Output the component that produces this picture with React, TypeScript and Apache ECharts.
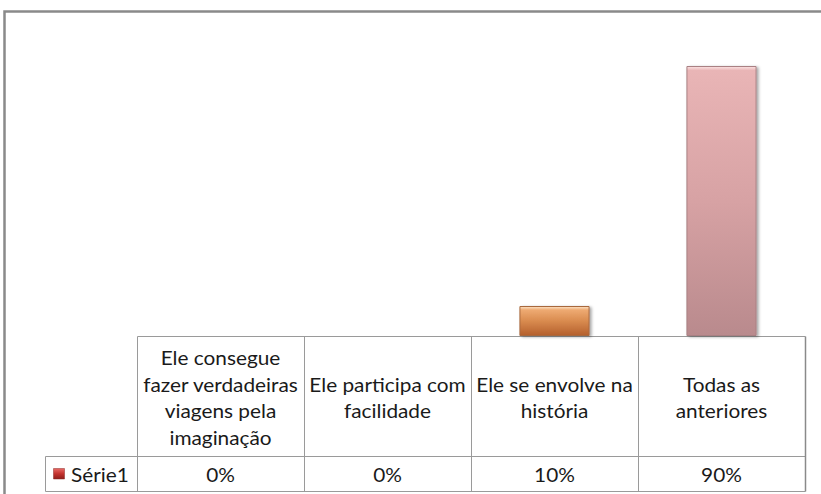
import { useEffect, useRef } from "react";
import * as echarts from "echarts";

// ---- data ----
const CATEGORIES = [
  "Ele consegue\nfazer verdadeiras\nviagens pela\nimaginação",
  "Ele participa com\nfacilidade",
  "Ele se envolve na\nhistória",
  "Todas as\nanteriores",
];
const VALUES = [0, 0, 10, 90];
const SERIES_NAME = "Série1";
const Y_MIN = 0;
const Y_MAX = 100;

// ---- layout / style ----
const W = 821;
const H = 494;
const GRID = { left: 137, right: 16, top: 36, bottom: 158 };
const HEADER_H = 120;
const VALUE_H = 35;
const LEGEND_LEFT = 45;
const FONT = "Lato, 'Open Sans', 'DejaVu Sans', sans-serif";
const FONT_SIZE = 20;
const LINE_H = 26.5;
const SCALE_X = 1.04;
const LINE_COLOR = "#9a9a9a";
const TEXT_COLOR = "#1a1a1a";

const vgrad = (stops: [number, string][]) =>
  new echarts.graphic.LinearGradient(
    0,
    0,
    0,
    1,
    stops.map(([offset, color]) => ({ offset, color }))
  );

const BAR_STYLES = [
  { fill: [[0, "#9db8e0"], [1, "#4f6fa8"]], border: "#4f6fa8" },
  { fill: [[0, "#e8a0a0"], [1, "#b04040"]], border: "#a04040" },
  {
    fill: [
      [0, "#fde3c6"],
      [0.12, "#eeaa72"],
      [0.5, "#d98b4f"],
      [1, "#b45f2c"],
    ],
    border: "#a8683e",
  },
  {
    fill: [
      [0, "#fbe2e2"],
      [0.015, "#e9b5b6"],
      [0.5, "#d7a2a4"],
      [1, "#b98a8d"],
    ],
    border: "#a98083",
  },
];

export default function App() {
  const ref = useRef<HTMLDivElement>(null);

  useEffect(() => {
    if (!ref.current) return;
    const chart = echarts.init(ref.current, undefined, { renderer: "svg" });

    const plotLeft = GRID.left;
    const plotRight = W - GRID.right;
    const tableTop = H - GRID.bottom;
    const headerBottom = tableTop + HEADER_H;
    const tableBottom = headerBottom + VALUE_H;
    const n = CATEGORIES.length;
    const bw = (plotRight - plotLeft) / n;
    const cx = (i: number) => plotLeft + bw * (i + 0.5);
    const px = (v: number) => Math.round(v) + 0.5;

    const lineStyle = { stroke: LINE_COLOR, lineWidth: 1 };
    const textStyle = {
      x: 0,
      y: 0,
      verticalAlign: "middle",
      fontFamily: FONT,
      fontSize: FONT_SIZE,
      fontWeight: "normal",
      fill: TEXT_COLOR,
    };
    const graphics: any[] = [];

    // outer chart frame
    graphics.push({
      type: "rect",
      silent: true,
      shape: { x: 4.5, y: 11.5, width: W + 40, height: H + 40 },
      style: { fill: "none", stroke: "#8a8a8a", lineWidth: 2.5 },
    });

    // table horizontal lines
    graphics.push({
      type: "line",
      silent: true,
      shape: { x1: px(plotLeft), y1: px(tableTop), x2: px(plotRight), y2: px(tableTop) },
      style: lineStyle,
    });
    graphics.push({
      type: "line",
      silent: true,
      shape: { x1: px(LEGEND_LEFT), y1: px(headerBottom), x2: px(plotRight), y2: px(headerBottom) },
      style: lineStyle,
    });
    graphics.push({
      type: "line",
      silent: true,
      shape: { x1: px(LEGEND_LEFT), y1: px(tableBottom), x2: px(plotRight), y2: px(tableBottom) },
      style: lineStyle,
    });
    // vertical lines
    for (let i = 0; i <= n; i++) {
      const x = px(plotLeft + bw * i);
      graphics.push({
        type: "line",
        silent: true,
        shape: { x1: x, y1: px(tableTop), x2: x, y2: px(tableBottom) },
        style: i === n ? { stroke: "#8a8a8a", lineWidth: 1.5 } : lineStyle,
      });
    }
    graphics.push({
      type: "line",
      silent: true,
      shape: { x1: px(LEGEND_LEFT), y1: px(headerBottom), x2: px(LEGEND_LEFT), y2: px(tableBottom) },
      style: lineStyle,
    });

    // header texts (categories) and value texts
    CATEGORIES.forEach((cat, i) => {
      graphics.push({
        type: "text",
        silent: true,
        x: cx(i),
        y: tableTop + HEADER_H / 2 + 1,
        scaleX: SCALE_X,
        style: { ...textStyle, text: cat, align: "center", lineHeight: LINE_H },
      });
      graphics.push({
        type: "text",
        silent: true,
        x: cx(i),
        y: headerBottom + VALUE_H / 2 + 1,
        scaleX: SCALE_X,
        style: { ...textStyle, text: `${VALUES[i]}%`, align: "center" },
      });
    });

    // legend key + series name in the table
    graphics.push({
      type: "rect",
      silent: true,
      shape: { x: LEGEND_LEFT + 8.5, y: headerBottom + 12.5, width: 11, height: 10.5 },
      style: {
        fill: vgrad([
          [0, "#e86a66"],
          [0.5, "#c4322e"],
          [1, "#8e1f1c"],
        ]),
        stroke: "#8e2a26",
        lineWidth: 0.5,
      },
    });
    graphics.push({
      type: "text",
      silent: true,
      x: LEGEND_LEFT + 26,
      y: headerBottom + VALUE_H / 2 + 1,
      scaleX: SCALE_X,
      style: { ...textStyle, text: SERIES_NAME, align: "left" },
    });

    chart.setOption({
      animation: false,
      backgroundColor: "#ffffff",
      grid: {
        left: GRID.left,
        right: GRID.right,
        top: GRID.top,
        bottom: GRID.bottom,
        containLabel: false,
      },
      xAxis: {
        type: "category",
        data: CATEGORIES,
        axisLine: { show: false },
        axisTick: { show: false },
        axisLabel: { show: false },
        splitLine: { show: false },
      },
      yAxis: {
        type: "value",
        min: Y_MIN,
        max: Y_MAX,
        show: false,
        splitLine: { show: false },
      },
      series: [
        {
          type: "bar",
          name: SERIES_NAME,
          barWidth: "42%",
          data: VALUES.map((v, i) => ({
            value: v,
            itemStyle: {
              color: vgrad(BAR_STYLES[i].fill as [number, string][]),
              borderColor: BAR_STYLES[i].border,
              borderWidth: 1,
              shadowColor: "rgba(0,0,0,0.35)",
              shadowBlur: 3,
              shadowOffsetX: 2,
              shadowOffsetY: 1,
            },
          })),
        },
      ],
      graphic: graphics,
    });

    return () => chart.dispose();
  }, []);

  return (
    <div
      ref={ref}
      style={{ position: "fixed", left: 0, top: 0, width: W, height: H, background: "#fff" }}
    />
  );
}
